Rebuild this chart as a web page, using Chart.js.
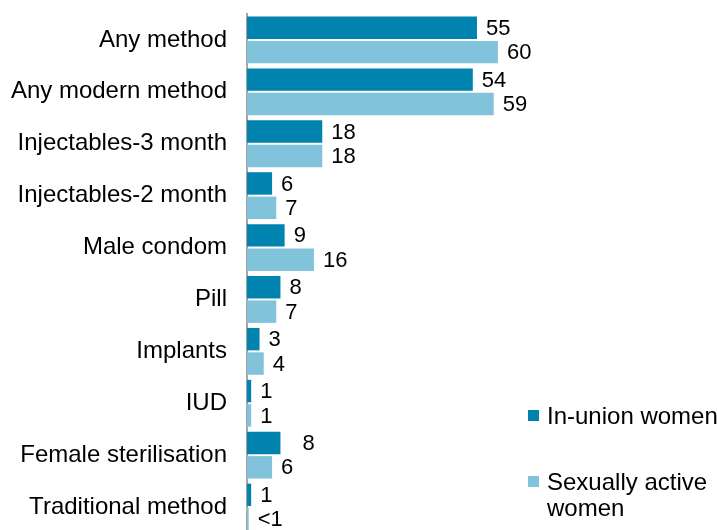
<!DOCTYPE html>
<html>
<head>
<meta charset="utf-8">
<script src="https://cdn.jsdelivr.net/npm/chart.js@4/dist/chart.umd.min.js"></script>
<style>
    html, body { margin: 0; padding: 0; background: #fff; overflow: hidden; }
    #wrap { position: relative; width: 717px; height: 540px; }
</style>
</head>
<body>
<div id="wrap"><canvas id="chart"></canvas></div>
<script>
// Contraceptive use by method, per cent
const methods = ['Any method', 'Any modern method', 'Injectables-3 month', 'Injectables-2 month',
    'Male condom', 'Pill', 'Implants', 'IUD', 'Female sterilisation', 'Traditional method'];
const inUnion = [55, 54, 18, 6, 9, 8, 3, 1, 8, 1];
const sexuallyActive = [60, 59, 18, 7, 16, 7, 4, 1, 6, 0.4];
const seriesNames = ['In-union women', ['Sexually active', 'women']];

const DARK = '#0083ae';
const LIGHT = '#80c3da';
const FONT = '"Liberation Sans", Arial, sans-serif';

// Value labels at the end of each bar (one label sits a little further out)
const valueLabels = {
    id: 'valueLabels',
    afterDatasetsDraw(chart) {
        const ctx = chart.ctx;
        const extraGap = { '0:8': 13 };
        ctx.save();
        ctx.font = '22px ' + FONT;
        ctx.fillStyle = '#000';
        ctx.textAlign = 'left';
        ctx.textBaseline = 'middle';
        chart.data.datasets.forEach((ds, di) => {
            chart.getDatasetMeta(di).data.forEach((bar, i) => {
                const v = ds.data[i];
                const txt = v < 1 ? '<1' : String(v);
                const gap = 9 + (extraGap[di + ':' + i] || 0);
                ctx.fillText(txt, bar.x + gap, bar.y + 1);
            });
        });
        ctx.restore();
    }
};

// Legend drawn in the lower right corner
const sideLegend = {
    id: 'sideLegend',
    afterDraw(chart) {
        const ctx = chart.ctx;
        ctx.save();
        ctx.font = '24px ' + FONT;
        ctx.textBaseline = 'middle';
        const rows = [416, 482];
        chart.data.datasets.forEach((ds, di) => {
            const y = rows[di];
            ctx.fillStyle = ds.backgroundColor;
            ctx.fillRect(528, y - 6, 11, 11);
            ctx.fillStyle = '#000';
            const lines = Array.isArray(ds.label) ? ds.label : [ds.label];
            lines.forEach((line, li) => ctx.fillText(line, 547, y + 1 + li * 26));
        });
        ctx.restore();
    }
};

new Chart(document.getElementById('chart'), {
    type: 'bar',
    data: {
        labels: methods,
        datasets: [
            { label: seriesNames[0], data: inUnion, backgroundColor: DARK },
            { label: seriesNames[1], data: sexuallyActive, backgroundColor: LIGHT }
        ]
    },
    options: {
        indexAxis: 'y',
        responsive: true,
        maintainAspectRatio: false,
        animation: false,
        categoryPercentage: 0.94,
        barPercentage: 0.92,
        layout: { padding: { top: 14, bottom: 7, left: 0, right: 0 } },
        scales: {
            x: {
                display: false,
                min: 0,
                max: 112.4
            },
            y: {
                afterFit(scale) {
                    scale.width = 247;
                    scale.paddingTop = 0;
                    scale.paddingBottom = 0;
                },
                grid: { display: false, drawTicks: false },
                border: { display: true, color: '#a6a6a6', width: 2 },
                ticks: {
                    padding: 20,
                    color: '#000',
                    font: { family: FONT, size: 24 }
                }
            }
        },
        plugins: {
            legend: { display: false },
            tooltip: { enabled: false }
        }
    },
    plugins: [valueLabels, sideLegend]
});
</script>
</body>
</html>
